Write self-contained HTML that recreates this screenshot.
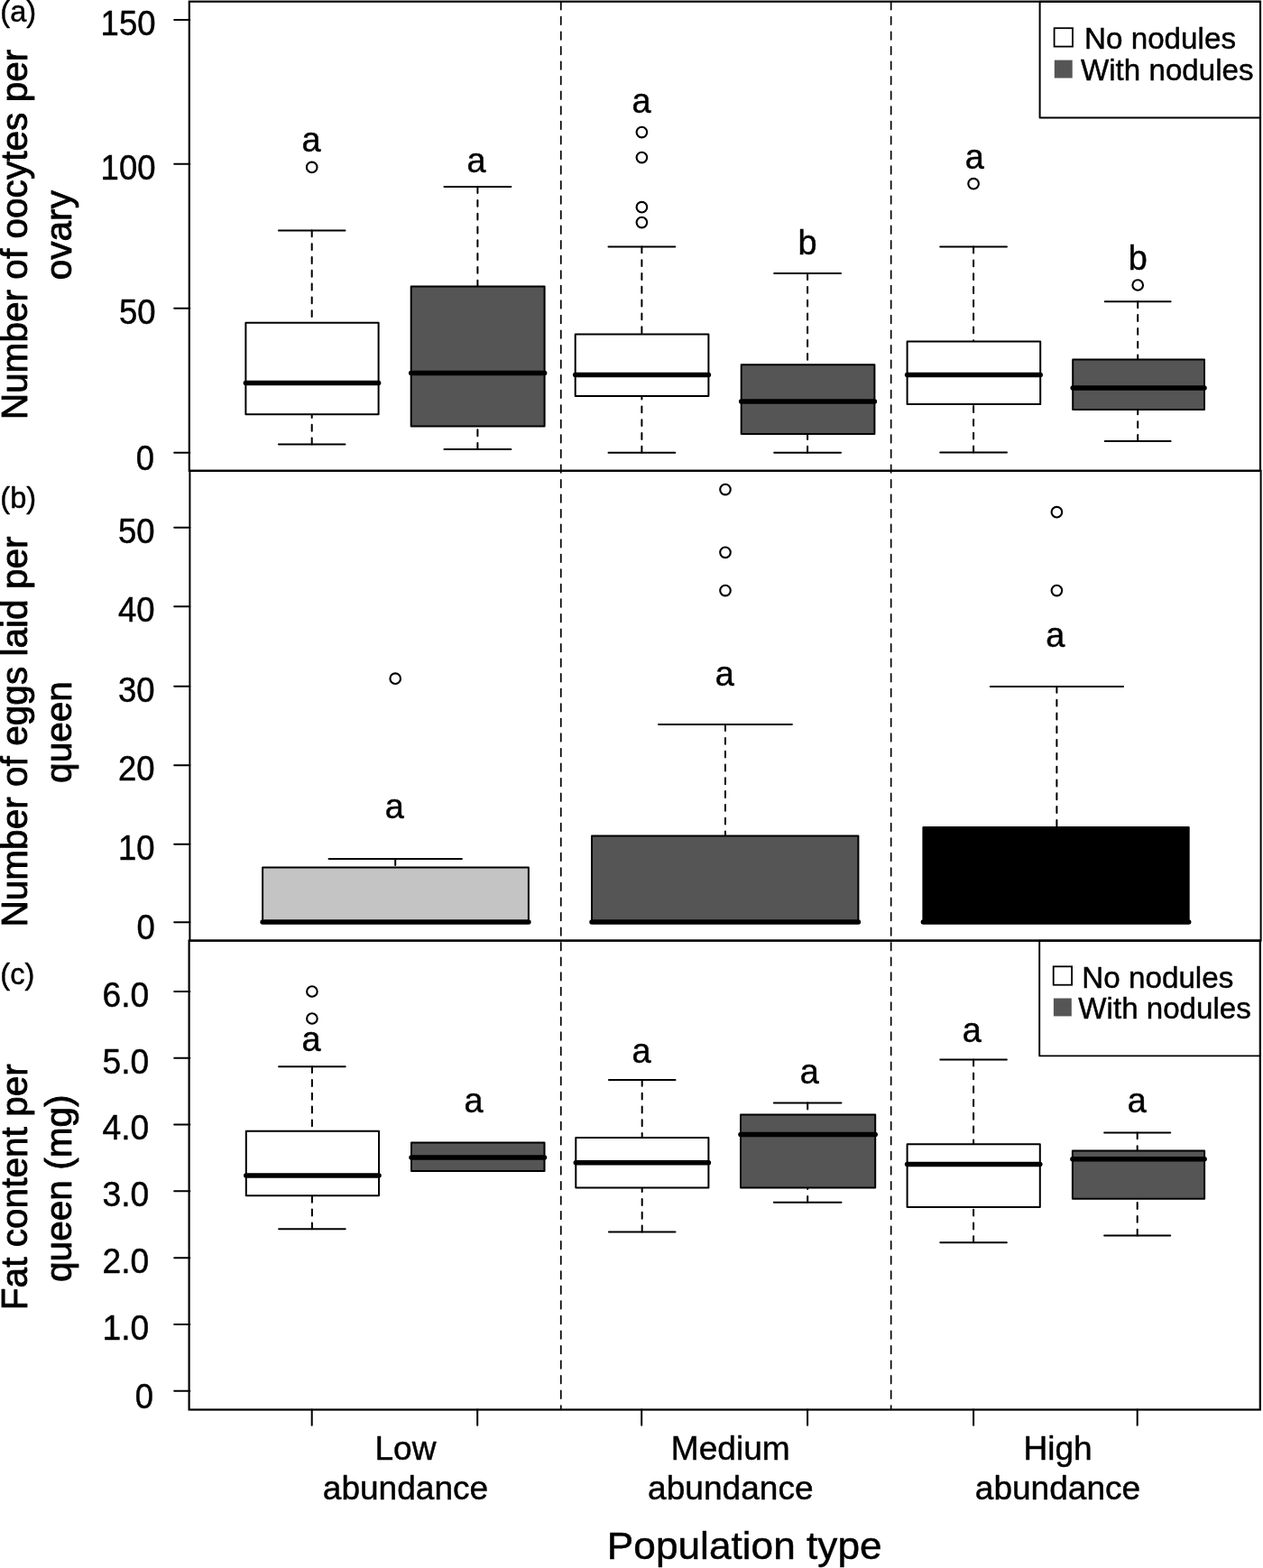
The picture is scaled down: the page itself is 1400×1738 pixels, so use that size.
<!DOCTYPE html>
<html lang="en"><head><meta charset="utf-8"><title>Figure</title>
<style>
html,body{margin:0;padding:0;background:#fff;}
svg{display:block;}
text{font-family:"Liberation Sans", sans-serif;fill:#000;stroke:#000;stroke-width:0.45px;stroke-linejoin:round;}
</style></head><body>
<svg width="1400" height="1738" viewBox="0 0 1400 1738">
<rect x="0" y="0" width="1400" height="1738" fill="#fff"/>
<line x1="345.70" y1="255.40" x2="345.70" y2="357.80" stroke="#000" stroke-width="2.0" stroke-linecap="round" stroke-dasharray="6.9 7.9"/>
<line x1="308.90" y1="255.40" x2="382.50" y2="255.40" stroke="#000" stroke-width="2.0" stroke-linecap="round" />
<line x1="345.70" y1="492.50" x2="345.70" y2="459.30" stroke="#000" stroke-width="2.0" stroke-linecap="round" stroke-dasharray="6.9 7.9"/>
<line x1="308.90" y1="492.50" x2="382.50" y2="492.50" stroke="#000" stroke-width="2.0" stroke-linecap="round" />
<rect x="272.40" y="357.80" width="147.20" height="101.50" fill="#fff" stroke="#000" stroke-width="2.0" stroke-linejoin="round"/>
<line x1="272.40" y1="424.60" x2="419.60" y2="424.60" stroke="#000" stroke-width="5.5" stroke-linecap="round" />
<circle cx="345.70" cy="185.40" r="5.8" fill="none" stroke="#000" stroke-width="2.1"/>
<line x1="529.40" y1="207.10" x2="529.40" y2="317.40" stroke="#000" stroke-width="2.0" stroke-linecap="round" stroke-dasharray="6.9 7.9"/>
<line x1="492.42" y1="207.10" x2="566.38" y2="207.10" stroke="#000" stroke-width="2.0" stroke-linecap="round" />
<line x1="529.40" y1="498.00" x2="529.40" y2="472.40" stroke="#000" stroke-width="2.0" stroke-linecap="round" stroke-dasharray="6.9 7.9"/>
<line x1="492.42" y1="498.00" x2="566.38" y2="498.00" stroke="#000" stroke-width="2.0" stroke-linecap="round" />
<rect x="455.70" y="317.40" width="147.90" height="155.00" fill="#555555" stroke="#000" stroke-width="2.0" stroke-linejoin="round"/>
<line x1="455.70" y1="413.40" x2="603.60" y2="413.40" stroke="#000" stroke-width="5.5" stroke-linecap="round" />
<line x1="711.40" y1="273.40" x2="711.40" y2="370.60" stroke="#000" stroke-width="2.0" stroke-linecap="round" stroke-dasharray="6.9 7.9"/>
<line x1="674.48" y1="273.40" x2="748.32" y2="273.40" stroke="#000" stroke-width="2.0" stroke-linecap="round" />
<line x1="711.40" y1="501.70" x2="711.40" y2="439.10" stroke="#000" stroke-width="2.0" stroke-linecap="round" stroke-dasharray="6.9 7.9"/>
<line x1="674.48" y1="501.70" x2="748.32" y2="501.70" stroke="#000" stroke-width="2.0" stroke-linecap="round" />
<rect x="637.70" y="370.60" width="147.70" height="68.50" fill="#fff" stroke="#000" stroke-width="2.0" stroke-linejoin="round"/>
<line x1="637.70" y1="415.40" x2="785.40" y2="415.40" stroke="#000" stroke-width="5.5" stroke-linecap="round" />
<circle cx="711.40" cy="146.60" r="5.8" fill="none" stroke="#000" stroke-width="2.1"/>
<circle cx="711.40" cy="174.60" r="5.8" fill="none" stroke="#000" stroke-width="2.1"/>
<circle cx="711.40" cy="229.70" r="5.8" fill="none" stroke="#000" stroke-width="2.1"/>
<circle cx="711.40" cy="246.60" r="5.8" fill="none" stroke="#000" stroke-width="2.1"/>
<line x1="895.10" y1="303.10" x2="895.10" y2="404.30" stroke="#000" stroke-width="2.0" stroke-linecap="round" stroke-dasharray="6.9 7.9"/>
<line x1="858.18" y1="303.10" x2="932.02" y2="303.10" stroke="#000" stroke-width="2.0" stroke-linecap="round" />
<line x1="895.10" y1="501.70" x2="895.10" y2="481.10" stroke="#000" stroke-width="2.0" stroke-linecap="round" stroke-dasharray="6.9 7.9"/>
<line x1="858.18" y1="501.70" x2="932.02" y2="501.70" stroke="#000" stroke-width="2.0" stroke-linecap="round" />
<rect x="821.70" y="404.30" width="147.70" height="76.80" fill="#555555" stroke="#000" stroke-width="2.0" stroke-linejoin="round"/>
<line x1="821.70" y1="444.90" x2="969.40" y2="444.90" stroke="#000" stroke-width="5.5" stroke-linecap="round" />
<line x1="1079.10" y1="273.60" x2="1079.10" y2="378.50" stroke="#000" stroke-width="2.0" stroke-linecap="round" stroke-dasharray="6.9 7.9"/>
<line x1="1042.20" y1="273.60" x2="1116.00" y2="273.60" stroke="#000" stroke-width="2.0" stroke-linecap="round" />
<line x1="1079.10" y1="501.40" x2="1079.10" y2="448.00" stroke="#000" stroke-width="2.0" stroke-linecap="round" stroke-dasharray="6.9 7.9"/>
<line x1="1042.20" y1="501.40" x2="1116.00" y2="501.40" stroke="#000" stroke-width="2.0" stroke-linecap="round" />
<rect x="1005.60" y="378.50" width="147.60" height="69.50" fill="#fff" stroke="#000" stroke-width="2.0" stroke-linejoin="round"/>
<line x1="1005.60" y1="415.40" x2="1153.20" y2="415.40" stroke="#000" stroke-width="5.5" stroke-linecap="round" />
<circle cx="1079.10" cy="203.70" r="5.8" fill="none" stroke="#000" stroke-width="2.1"/>
<line x1="1261.20" y1="334.30" x2="1261.20" y2="398.60" stroke="#000" stroke-width="2.0" stroke-linecap="round" stroke-dasharray="6.9 7.9"/>
<line x1="1224.75" y1="334.30" x2="1297.65" y2="334.30" stroke="#000" stroke-width="2.0" stroke-linecap="round" />
<line x1="1261.20" y1="488.90" x2="1261.20" y2="454.10" stroke="#000" stroke-width="2.0" stroke-linecap="round" stroke-dasharray="6.9 7.9"/>
<line x1="1224.75" y1="488.90" x2="1297.65" y2="488.90" stroke="#000" stroke-width="2.0" stroke-linecap="round" />
<rect x="1189.20" y="398.60" width="145.80" height="55.50" fill="#555555" stroke="#000" stroke-width="2.0" stroke-linejoin="round"/>
<line x1="1189.20" y1="430.00" x2="1335.00" y2="430.00" stroke="#000" stroke-width="5.5" stroke-linecap="round" />
<circle cx="1261.20" cy="316.00" r="5.8" fill="none" stroke="#000" stroke-width="2.1"/>
<text transform="translate(345.00 168.40) scale(0.96 1.0)" font-size="39.5" text-anchor="middle" >a</text>
<text transform="translate(527.95 191.30) scale(0.96 1.0)" font-size="39.5" text-anchor="middle" >a</text>
<text transform="translate(711.15 125.20) scale(0.96 1.0)" font-size="39.5" text-anchor="middle" >a</text>
<text transform="translate(895.10 282.40) scale(0.96 1.0)" font-size="39.5" text-anchor="middle" >b</text>
<text transform="translate(1080.30 187.40) scale(0.96 1.0)" font-size="39.5" text-anchor="middle" >a</text>
<text transform="translate(1261.30 298.90) scale(0.96 1.0)" font-size="39.5" text-anchor="middle" >b</text>
<line x1="438.20" y1="952.00" x2="438.20" y2="961.50" stroke="#000" stroke-width="2.0" stroke-linecap="round" stroke-dasharray="6.9 7.9"/>
<line x1="364.50" y1="952.00" x2="511.90" y2="952.00" stroke="#000" stroke-width="2.0" stroke-linecap="round" />
<rect x="291.10" y="961.50" width="294.80" height="60.60" fill="#c4c4c4" stroke="#000" stroke-width="2.0" stroke-linejoin="round"/>
<line x1="291.10" y1="1022.10" x2="585.90" y2="1022.10" stroke="#000" stroke-width="5.5" stroke-linecap="round" />
<circle cx="438.20" cy="752.20" r="5.8" fill="none" stroke="#000" stroke-width="2.1"/>
<line x1="804.00" y1="803.10" x2="804.00" y2="926.60" stroke="#000" stroke-width="2.0" stroke-linecap="round" stroke-dasharray="6.9 7.9"/>
<line x1="730.15" y1="803.10" x2="877.85" y2="803.10" stroke="#000" stroke-width="2.0" stroke-linecap="round" />
<rect x="656.00" y="926.60" width="295.40" height="95.50" fill="#555555" stroke="#000" stroke-width="2.0" stroke-linejoin="round"/>
<line x1="656.00" y1="1022.10" x2="951.40" y2="1022.10" stroke="#000" stroke-width="5.5" stroke-linecap="round" />
<circle cx="804.00" cy="542.60" r="5.8" fill="none" stroke="#000" stroke-width="2.1"/>
<circle cx="804.00" cy="612.30" r="5.8" fill="none" stroke="#000" stroke-width="2.1"/>
<circle cx="804.00" cy="654.60" r="5.8" fill="none" stroke="#000" stroke-width="2.1"/>
<line x1="1171.40" y1="760.90" x2="1171.40" y2="916.90" stroke="#000" stroke-width="2.0" stroke-linecap="round" stroke-dasharray="6.9 7.9"/>
<line x1="1097.83" y1="760.90" x2="1244.98" y2="760.90" stroke="#000" stroke-width="2.0" stroke-linecap="round" />
<rect x="1023.40" y="916.90" width="294.30" height="105.20" fill="#000" stroke="#000" stroke-width="2.0" stroke-linejoin="round"/>
<line x1="1023.40" y1="1022.10" x2="1317.70" y2="1022.10" stroke="#000" stroke-width="5.5" stroke-linecap="round" />
<circle cx="1171.40" cy="567.70" r="5.8" fill="none" stroke="#000" stroke-width="2.1"/>
<circle cx="1171.40" cy="654.60" r="5.8" fill="none" stroke="#000" stroke-width="2.1"/>
<text transform="translate(437.30 906.80) scale(0.96 1.0)" font-size="39.5" text-anchor="middle" >a</text>
<text transform="translate(803.25 759.60) scale(0.96 1.0)" font-size="39.5" text-anchor="middle" >a</text>
<text transform="translate(1169.80 717.00) scale(0.96 1.0)" font-size="39.5" text-anchor="middle" >a</text>
<line x1="345.90" y1="1182.20" x2="345.90" y2="1253.70" stroke="#000" stroke-width="2.0" stroke-linecap="round" stroke-dasharray="6.9 7.9"/>
<line x1="309.10" y1="1182.20" x2="382.70" y2="1182.20" stroke="#000" stroke-width="2.0" stroke-linecap="round" />
<line x1="345.90" y1="1362.30" x2="345.90" y2="1325.30" stroke="#000" stroke-width="2.0" stroke-linecap="round" stroke-dasharray="6.9 7.9"/>
<line x1="309.10" y1="1362.30" x2="382.70" y2="1362.30" stroke="#000" stroke-width="2.0" stroke-linecap="round" />
<rect x="272.80" y="1253.70" width="147.20" height="71.60" fill="#fff" stroke="#000" stroke-width="2.0" stroke-linejoin="round"/>
<line x1="272.80" y1="1303.10" x2="420.00" y2="1303.10" stroke="#000" stroke-width="5.5" stroke-linecap="round" />
<circle cx="345.90" cy="1099.00" r="5.8" fill="none" stroke="#000" stroke-width="2.1"/>
<circle cx="345.90" cy="1129.00" r="5.8" fill="none" stroke="#000" stroke-width="2.1"/>
<rect x="456.00" y="1266.50" width="147.50" height="31.50" fill="#555555" stroke="#000" stroke-width="2.0" stroke-linejoin="round"/>
<line x1="456.00" y1="1283.00" x2="603.50" y2="1283.00" stroke="#000" stroke-width="5.5" stroke-linecap="round" />
<line x1="711.70" y1="1196.90" x2="711.70" y2="1261.10" stroke="#000" stroke-width="2.0" stroke-linecap="round" stroke-dasharray="6.9 7.9"/>
<line x1="674.93" y1="1196.90" x2="748.48" y2="1196.90" stroke="#000" stroke-width="2.0" stroke-linecap="round" />
<line x1="711.70" y1="1365.50" x2="711.70" y2="1316.60" stroke="#000" stroke-width="2.0" stroke-linecap="round" stroke-dasharray="6.9 7.9"/>
<line x1="674.93" y1="1365.50" x2="748.48" y2="1365.50" stroke="#000" stroke-width="2.0" stroke-linecap="round" />
<rect x="638.30" y="1261.10" width="147.10" height="55.50" fill="#fff" stroke="#000" stroke-width="2.0" stroke-linejoin="round"/>
<line x1="638.30" y1="1288.80" x2="785.40" y2="1288.80" stroke="#000" stroke-width="5.5" stroke-linecap="round" />
<line x1="895.20" y1="1222.60" x2="895.20" y2="1235.40" stroke="#000" stroke-width="2.0" stroke-linecap="round" stroke-dasharray="6.9 7.9"/>
<line x1="857.90" y1="1222.60" x2="932.50" y2="1222.60" stroke="#000" stroke-width="2.0" stroke-linecap="round" />
<line x1="895.20" y1="1332.80" x2="895.20" y2="1316.60" stroke="#000" stroke-width="2.0" stroke-linecap="round" stroke-dasharray="6.9 7.9"/>
<line x1="857.90" y1="1332.80" x2="932.50" y2="1332.80" stroke="#000" stroke-width="2.0" stroke-linecap="round" />
<rect x="821.00" y="1235.40" width="149.20" height="81.20" fill="#555555" stroke="#000" stroke-width="2.0" stroke-linejoin="round"/>
<line x1="821.00" y1="1257.40" x2="970.20" y2="1257.40" stroke="#000" stroke-width="5.5" stroke-linecap="round" />
<line x1="1079.10" y1="1174.60" x2="1079.10" y2="1268.30" stroke="#000" stroke-width="2.0" stroke-linecap="round" stroke-dasharray="6.9 7.9"/>
<line x1="1042.30" y1="1174.60" x2="1115.90" y2="1174.60" stroke="#000" stroke-width="2.0" stroke-linecap="round" />
<line x1="1079.10" y1="1377.20" x2="1079.10" y2="1338.00" stroke="#000" stroke-width="2.0" stroke-linecap="round" stroke-dasharray="6.9 7.9"/>
<line x1="1042.30" y1="1377.20" x2="1115.90" y2="1377.20" stroke="#000" stroke-width="2.0" stroke-linecap="round" />
<rect x="1005.60" y="1268.30" width="147.20" height="69.70" fill="#fff" stroke="#000" stroke-width="2.0" stroke-linejoin="round"/>
<line x1="1005.60" y1="1290.50" x2="1152.80" y2="1290.50" stroke="#000" stroke-width="5.5" stroke-linecap="round" />
<line x1="1260.70" y1="1255.40" x2="1260.70" y2="1275.60" stroke="#000" stroke-width="2.0" stroke-linecap="round" stroke-dasharray="6.9 7.9"/>
<line x1="1224.15" y1="1255.40" x2="1297.25" y2="1255.40" stroke="#000" stroke-width="2.0" stroke-linecap="round" />
<line x1="1260.70" y1="1369.60" x2="1260.70" y2="1328.80" stroke="#000" stroke-width="2.0" stroke-linecap="round" stroke-dasharray="6.9 7.9"/>
<line x1="1224.15" y1="1369.60" x2="1297.25" y2="1369.60" stroke="#000" stroke-width="2.0" stroke-linecap="round" />
<rect x="1188.90" y="1275.60" width="146.20" height="53.20" fill="#555555" stroke="#000" stroke-width="2.0" stroke-linejoin="round"/>
<line x1="1188.90" y1="1284.80" x2="1335.10" y2="1284.80" stroke="#000" stroke-width="5.5" stroke-linecap="round" />
<text transform="translate(345.10 1164.90) scale(0.96 1.0)" font-size="39.5" text-anchor="middle" >a</text>
<text transform="translate(525.15 1233.30) scale(0.96 1.0)" font-size="39.5" text-anchor="middle" >a</text>
<text transform="translate(711.15 1177.70) scale(0.96 1.0)" font-size="39.5" text-anchor="middle" >a</text>
<text transform="translate(897.40 1200.80) scale(0.96 1.0)" font-size="39.5" text-anchor="middle" >a</text>
<text transform="translate(1077.25 1154.90) scale(0.96 1.0)" font-size="39.5" text-anchor="middle" >a</text>
<text transform="translate(1260.20 1233.40) scale(0.96 1.0)" font-size="39.5" text-anchor="middle" >a</text>
<line x1="621.80" y1="1.70" x2="621.80" y2="1562.50" stroke="#000" stroke-width="1.65" stroke-linecap="round" stroke-dasharray="8.7 7.852" stroke-dashoffset="-0.4"/>
<line x1="987.70" y1="1.70" x2="987.70" y2="1562.50" stroke="#000" stroke-width="1.65" stroke-linecap="round" stroke-dasharray="8.7 7.852" stroke-dashoffset="-0.4"/>
<rect x="1152.6" y="1.7" width="244.40" height="128.80" fill="#fff" stroke="#000" stroke-width="2.0" stroke-linejoin="round"/>
<rect x="1168.60" y="31.20" width="20.4" height="20.4" fill="#fff" stroke="#000" stroke-width="1.8"/>
<rect x="1168.80" y="66.60" width="19.9" height="19.9" fill="#555555"/>
<text transform="translate(1202.00 54.30) scale(1.0 1.03)" font-size="33" text-anchor="start" textLength="168.00" lengthAdjust="spacingAndGlyphs" >No nodules</text>
<text transform="translate(1198.00 89.00) scale(1.0 1.03)" font-size="33" text-anchor="start" textLength="191.50" lengthAdjust="spacingAndGlyphs" >With nodules</text>
<rect x="1152.2" y="1042.6" width="244.80" height="127.80" fill="#fff" stroke="#000" stroke-width="1.9" stroke-linejoin="round"/>
<rect x="1167.70" y="1071.30" width="20.4" height="20.4" fill="#fff" stroke="#000" stroke-width="1.8"/>
<rect x="1167.90" y="1106.50" width="19.9" height="19.9" fill="#555555"/>
<text transform="translate(1199.30 1094.60) scale(1.0 1.03)" font-size="33" text-anchor="start" textLength="168.00" lengthAdjust="spacingAndGlyphs" >No nodules</text>
<text transform="translate(1195.30 1129.40) scale(1.0 1.03)" font-size="33" text-anchor="start" textLength="191.50" lengthAdjust="spacingAndGlyphs" >With nodules</text>
<rect x="209.8" y="1.7" width="1187.20" height="520.10" fill="none" stroke="#000" stroke-width="2.2"/>
<rect x="210.4" y="521.8" width="1187.20" height="520.80" fill="none" stroke="#000" stroke-width="2.0"/>
<rect x="209.6" y="1042.6" width="1187.20" height="519.90" fill="none" stroke="#000" stroke-width="2.2"/>
<text transform="translate(171.00 520.80) scale(0.955 1.035)" font-size="38.2" text-anchor="end" >0</text>
<text transform="translate(171.90 1041.30) scale(0.955 1.035)" font-size="38.2" text-anchor="end" >0</text>
<text transform="translate(170.10 1561.20) scale(0.955 1.035)" font-size="38.2" text-anchor="end" >0</text>
<line x1="193.20" y1="22.00" x2="210.40" y2="22.00" stroke="#000" stroke-width="2.0" stroke-linecap="round" />
<text transform="translate(172.50 38.80) scale(1.0 1.04)" font-size="36.5" text-anchor="end" >150</text>
<line x1="193.20" y1="181.80" x2="210.40" y2="181.80" stroke="#000" stroke-width="2.0" stroke-linecap="round" />
<text transform="translate(172.50 198.60) scale(1.0 1.04)" font-size="36.5" text-anchor="end" >100</text>
<line x1="193.20" y1="341.80" x2="210.40" y2="341.80" stroke="#000" stroke-width="2.0" stroke-linecap="round" />
<text transform="translate(172.50 358.60) scale(1.0 1.04)" font-size="36.5" text-anchor="end" >50</text>
<line x1="193.20" y1="501.80" x2="210.40" y2="501.80" stroke="#000" stroke-width="2.0" stroke-linecap="round" />
<line x1="193.20" y1="584.70" x2="210.40" y2="584.70" stroke="#000" stroke-width="2.0" stroke-linecap="round" />
<text transform="translate(171.50 601.50) scale(1.0 1.04)" font-size="36.5" text-anchor="end" >50</text>
<line x1="193.20" y1="672.20" x2="210.40" y2="672.20" stroke="#000" stroke-width="2.0" stroke-linecap="round" />
<text transform="translate(171.50 689.00) scale(1.0 1.04)" font-size="36.5" text-anchor="end" >40</text>
<line x1="193.20" y1="760.80" x2="210.40" y2="760.80" stroke="#000" stroke-width="2.0" stroke-linecap="round" />
<text transform="translate(171.50 777.60) scale(1.0 1.04)" font-size="36.5" text-anchor="end" >30</text>
<line x1="193.20" y1="848.20" x2="210.40" y2="848.20" stroke="#000" stroke-width="2.0" stroke-linecap="round" />
<text transform="translate(171.50 865.00) scale(1.0 1.04)" font-size="36.5" text-anchor="end" >20</text>
<line x1="193.20" y1="935.80" x2="210.40" y2="935.80" stroke="#000" stroke-width="2.0" stroke-linecap="round" />
<text transform="translate(171.50 952.60) scale(1.0 1.04)" font-size="36.5" text-anchor="end" >10</text>
<line x1="193.20" y1="1022.20" x2="210.40" y2="1022.20" stroke="#000" stroke-width="2.0" stroke-linecap="round" />
<line x1="193.20" y1="1099.00" x2="210.40" y2="1099.00" stroke="#000" stroke-width="2.0" stroke-linecap="round" />
<text transform="translate(165.30 1115.80) scale(1.02 1.04)" font-size="36.5" text-anchor="end" >6.0</text>
<line x1="193.20" y1="1172.70" x2="210.40" y2="1172.70" stroke="#000" stroke-width="2.0" stroke-linecap="round" />
<text transform="translate(165.30 1189.50) scale(1.02 1.04)" font-size="36.5" text-anchor="end" >5.0</text>
<line x1="193.20" y1="1246.50" x2="210.40" y2="1246.50" stroke="#000" stroke-width="2.0" stroke-linecap="round" />
<text transform="translate(165.30 1263.30) scale(1.02 1.04)" font-size="36.5" text-anchor="end" >4.0</text>
<line x1="193.20" y1="1320.20" x2="210.40" y2="1320.20" stroke="#000" stroke-width="2.0" stroke-linecap="round" />
<text transform="translate(165.30 1337.00) scale(1.02 1.04)" font-size="36.5" text-anchor="end" >3.0</text>
<line x1="193.20" y1="1394.30" x2="210.40" y2="1394.30" stroke="#000" stroke-width="2.0" stroke-linecap="round" />
<text transform="translate(165.30 1411.10) scale(1.02 1.04)" font-size="36.5" text-anchor="end" >2.0</text>
<line x1="193.20" y1="1468.10" x2="210.40" y2="1468.10" stroke="#000" stroke-width="2.0" stroke-linecap="round" />
<text transform="translate(165.30 1484.90) scale(1.02 1.04)" font-size="36.5" text-anchor="end" >1.0</text>
<line x1="193.20" y1="1541.70" x2="210.40" y2="1541.70" stroke="#000" stroke-width="2.0" stroke-linecap="round" />
<line x1="345.70" y1="1562.50" x2="345.70" y2="1579.80" stroke="#000" stroke-width="2.0" stroke-linecap="round" />
<line x1="529.20" y1="1562.50" x2="529.20" y2="1579.80" stroke="#000" stroke-width="2.0" stroke-linecap="round" />
<line x1="711.20" y1="1562.50" x2="711.20" y2="1579.80" stroke="#000" stroke-width="2.0" stroke-linecap="round" />
<line x1="895.10" y1="1562.50" x2="895.10" y2="1579.80" stroke="#000" stroke-width="2.0" stroke-linecap="round" />
<line x1="1079.10" y1="1562.50" x2="1079.10" y2="1579.80" stroke="#000" stroke-width="2.0" stroke-linecap="round" />
<line x1="1260.70" y1="1562.50" x2="1260.70" y2="1579.80" stroke="#000" stroke-width="2.0" stroke-linecap="round" />
<text transform="translate(449.50 1617.50) scale(1.03 1.02)" font-size="36" text-anchor="middle" >Low</text>
<text transform="translate(449.50 1661.60) scale(1.03 1.02)" font-size="36" text-anchor="middle" >abundance</text>
<text transform="translate(809.80 1617.50) scale(1.03 1.02)" font-size="36" text-anchor="middle" >Medium</text>
<text transform="translate(809.80 1661.60) scale(1.03 1.02)" font-size="36" text-anchor="middle" >abundance</text>
<text transform="translate(1172.50 1617.50) scale(1.03 1.02)" font-size="36" text-anchor="middle" >High</text>
<text transform="translate(1172.50 1661.60) scale(1.03 1.02)" font-size="36" text-anchor="middle" >abundance</text>
<text transform="translate(825.20 1727.90) scale(1.068 1.03)" font-size="41.4" text-anchor="middle" >Population type</text>
<text transform="translate(0.30 24.20) scale(1.0 1.04)" font-size="32.6" text-anchor="start" >(a)</text>
<text transform="translate(0.30 563.00) scale(1.0 1.04)" font-size="32.6" text-anchor="start" >(b)</text>
<text transform="translate(0.30 1091.30) scale(1.0 1.04)" font-size="32.6" text-anchor="start" >(c)</text>
<text transform="translate(29.60 260.00) rotate(-90) scale(1.0 1.02)" font-size="40.6" text-anchor="middle" style="stroke-width:0.85px">Number of oocytes per</text>
<text transform="translate(79.00 260.70) rotate(-90) scale(1.0 1.02)" font-size="40.6" text-anchor="middle" style="stroke-width:0.85px">ovary</text>
<text transform="translate(29.60 811.00) rotate(-90) scale(1.0 1.02)" font-size="40.6" text-anchor="middle" style="stroke-width:0.85px">Number of eggs laid per</text>
<text transform="translate(78.80 811.50) rotate(-90) scale(1.0 1.02)" font-size="40.6" text-anchor="middle" style="stroke-width:0.85px">queen</text>
<text transform="translate(29.80 1315.70) rotate(-90) scale(1.0 1.02)" font-size="40.6" text-anchor="middle" style="stroke-width:0.85px">Fat content per</text>
<text transform="translate(79.10 1317.20) rotate(-90) scale(1.0 1.02)" font-size="40.6" text-anchor="middle" style="stroke-width:0.85px">queen (mg)</text>
</svg></body></html>
